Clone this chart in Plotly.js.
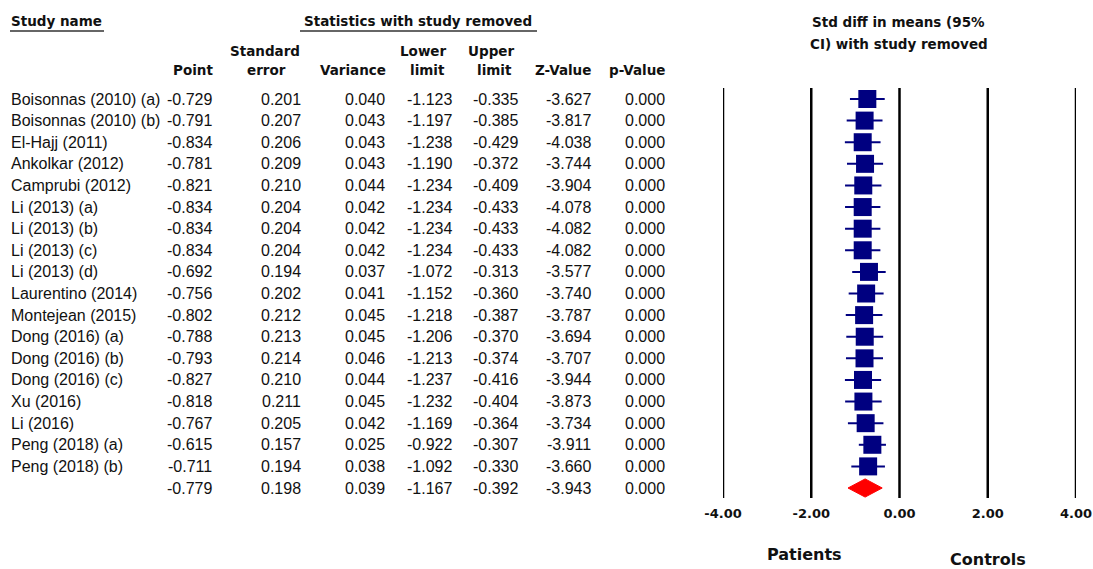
<!DOCTYPE html>
<html>
<head>
<meta charset="utf-8">
<script src="https://cdn.plot.ly/plotly-3.0.1.min.js"></script>
<style>html,body{margin:0;padding:0;background:#fff;}#chart{width:1093px;height:569px;}</style>
</head>
<body>
<div id="chart"></div>
<script>
// ---- data ----
const studies = ["Boisonnas (2010) (a)","Boisonnas (2010) (b)","El-Hajj (2011)","Ankolkar (2012)","Camprubi (2012)",
  "Li (2013) (a)","Li (2013) (b)","Li (2013) (c)","Li (2013) (d)","Laurentino (2014)","Montejean (2015)",
  "Dong (2016) (a)","Dong (2016) (b)","Dong (2016) (c)","Xu (2016)","Li (2016)","Peng (2018) (a)","Peng (2018) (b)"];
const point    = [-0.729,-0.791,-0.834,-0.781,-0.821,-0.834,-0.834,-0.834,-0.692,-0.756,-0.802,-0.788,-0.793,-0.827,-0.818,-0.767,-0.615,-0.711];
const stdErr   = [0.201,0.207,0.206,0.209,0.210,0.204,0.204,0.204,0.194,0.202,0.212,0.213,0.214,0.210,0.211,0.205,0.157,0.194];
const variance = [0.040,0.043,0.043,0.043,0.044,0.042,0.042,0.042,0.037,0.041,0.045,0.045,0.046,0.044,0.045,0.042,0.025,0.038];
const lower    = [-1.123,-1.197,-1.238,-1.190,-1.234,-1.234,-1.234,-1.234,-1.072,-1.152,-1.218,-1.206,-1.213,-1.237,-1.232,-1.169,-0.922,-1.092];
const upper    = [-0.335,-0.385,-0.429,-0.372,-0.409,-0.433,-0.433,-0.433,-0.313,-0.360,-0.387,-0.370,-0.374,-0.416,-0.404,-0.364,-0.307,-0.330];
const zValue   = [-3.627,-3.817,-4.038,-3.744,-3.904,-4.078,-4.082,-4.082,-3.577,-3.740,-3.787,-3.694,-3.707,-3.944,-3.873,-3.734,-3.911,-3.660];
const pValue   = [0.000,0.000,0.000,0.000,0.000,0.000,0.000,0.000,0.000,0.000,0.000,0.000,0.000,0.000,0.000,0.000,0.000,0.000];
// overall (summary) row
const summary = {point:-0.779, se:0.198, variance:0.039, lower:-1.167, upper:-0.392, z:-3.943, p:0.000};
const tickVals = [-4,-2,0,2,4];
const tickLabels = ["-4.00","-2.00","0.00","2.00","4.00"];

// ---- layout geometry ----
const W = 1093, H = 569;
const rowTopPx = 99, rowBotPx = 488;
const nRows = studies.length + 1;
const s = (rowBotPx - rowTopPx) / (nRows - 1);
const yTop = -rowTopPx / s, yBot = yTop + H / s;
const px = v => v / W;
const py = v => 1 - v / H;

const rows = studies.map((_, i) => i);
const sumRow = studies.length;

const traces = [];
// study squares with CI whiskers
traces.push({
  type: 'scatter', mode: 'markers', x: point, y: rows,
  marker: {symbol: 'square', size: 18, color: '#000080'},
  error_x: {type: 'data', symmetric: false,
    array: upper.map((u, i) => u - point[i]),
    arrayminus: lower.map((l, i) => point[i] - l),
    width: 0, thickness: 2, color: '#000080'},
  hoverinfo: 'skip'
});
// summary diamond
const dh = 0.42;
traces.push({
  type: 'scatter', mode: 'lines', fill: 'toself',
  x: [summary.lower, summary.point, summary.upper, summary.point, summary.lower],
  y: [sumRow, sumRow - dh, sumRow, sumRow + dh, sumRow],
  line: {color: '#ff0000', width: 1}, fillcolor: '#ff0000', hoverinfo: 'skip'
});

const bodyFont = {family: 'Liberation Sans, Arial, sans-serif', size: 16, color: '#111'};
const headFont = {family: 'DejaVu Sans, Verdana, sans-serif', size: 13.5, color: '#111', weight: 'bold'};

const annotations = [];
const fmt = v => v.toFixed(3);
const cols = [
  {right: 213, vals: point.concat([summary.point])},
  {right: 302, vals: stdErr.concat([summary.se])},
  {right: 386, vals: variance.concat([summary.variance])},
  {right: 453, vals: lower.concat([summary.lower])},
  {right: 519, vals: upper.concat([summary.upper])},
  {right: 592, vals: zValue.concat([summary.z])},
  {right: 666, vals: pValue.concat([summary.p])}
];
studies.forEach((name, i) => {
  annotations.push({xref: 'paper', yref: 'y', x: px(10), y: i, xanchor: 'left', yanchor: 'middle',
    text: name, showarrow: false, font: bodyFont, borderpad: 0});
});
cols.forEach(c => {
  c.vals.forEach((v, i) => {
    annotations.push({xref: 'paper', yref: 'y', x: px(c.right), y: i, xanchor: 'right', yanchor: 'middle',
      text: fmt(v), showarrow: false, font: bodyFont, borderpad: 0});
  });
});

function head(text, x, y, anchor) {
  annotations.push({xref: 'paper', yref: 'paper', x: px(x), y: py(y), xanchor: anchor, yanchor: 'middle',
    text: text, showarrow: false, font: headFont, borderpad: 0});
}
head('Study name', 10, 21, 'left');
head('Statistics with study removed', 418, 21, 'center');
head('Std diff in means (95%', 898, 22, 'center');
head('CI) with study removed', 899, 44, 'center');
head('Point', 214, 70, 'right');
head('Standard', 265, 51, 'center');
head('error', 266, 70, 'center');
head('Variance', 387, 70, 'right');
head('Lower', 423, 51, 'center');
head('limit', 427, 70, 'center');
head('Upper', 491, 51, 'center');
head('limit', 494, 70, 'center');
head('Z-Value', 592, 70, 'right');
head('p-Value', 667, 70, 'right');

const bigFont = {family: 'DejaVu Sans, Verdana, sans-serif', size: 16, color: '#111', weight: 'bold'};
annotations.push({xref: 'paper', yref: 'paper', x: px(804), y: py(554), xanchor: 'center', yanchor: 'middle',
  text: 'Patients', showarrow: false, font: bigFont, borderpad: 0});
annotations.push({xref: 'paper', yref: 'paper', x: px(988), y: py(559), xanchor: 'center', yanchor: 'middle',
  text: 'Controls', showarrow: false, font: bigFont, borderpad: 0});

const shapes = [];
tickVals.forEach(v => {
  shapes.push({type: 'line', xref: 'x', yref: 'paper', x0: v, x1: v, y0: py(498), y1: py(88),
    line: {color: '#000', width: 2.5}});
});
// underlines
shapes.push({type: 'line', xref: 'paper', yref: 'paper', x0: px(10), x1: px(104), y0: py(31), y1: py(31), line: {color: '#333', width: 1.5}});
shapes.push({type: 'line', xref: 'paper', yref: 'paper', x0: px(300), x1: px(537), y0: py(31), y1: py(31), line: {color: '#333', width: 1.5}});

const layout = {
  width: W, height: H,
  margin: {l: 0, r: 0, t: 0, b: 0, pad: 0},
  paper_bgcolor: '#fff', plot_bgcolor: 'rgba(0,0,0,0)',
  showlegend: false,
  xaxis: {domain: [723 / W, 1076 / W], range: [-4, 4], anchor: 'free', position: py(504),
    tickvals: tickVals, ticktext: tickLabels, showgrid: false, zeroline: false, showline: false, ticks: '',
    tickfont: {family: 'DejaVu Sans, Verdana, sans-serif', size: 13, color: '#111', weight: 'bold'},
    fixedrange: true},
  yaxis: {domain: [0, 1], range: [yBot, yTop], visible: false, fixedrange: true},
  annotations: annotations,
  shapes: shapes
};

Plotly.newPlot('chart', traces, layout, {displayModeBar: false, staticPlot: true});
</script>
</body>
</html>
